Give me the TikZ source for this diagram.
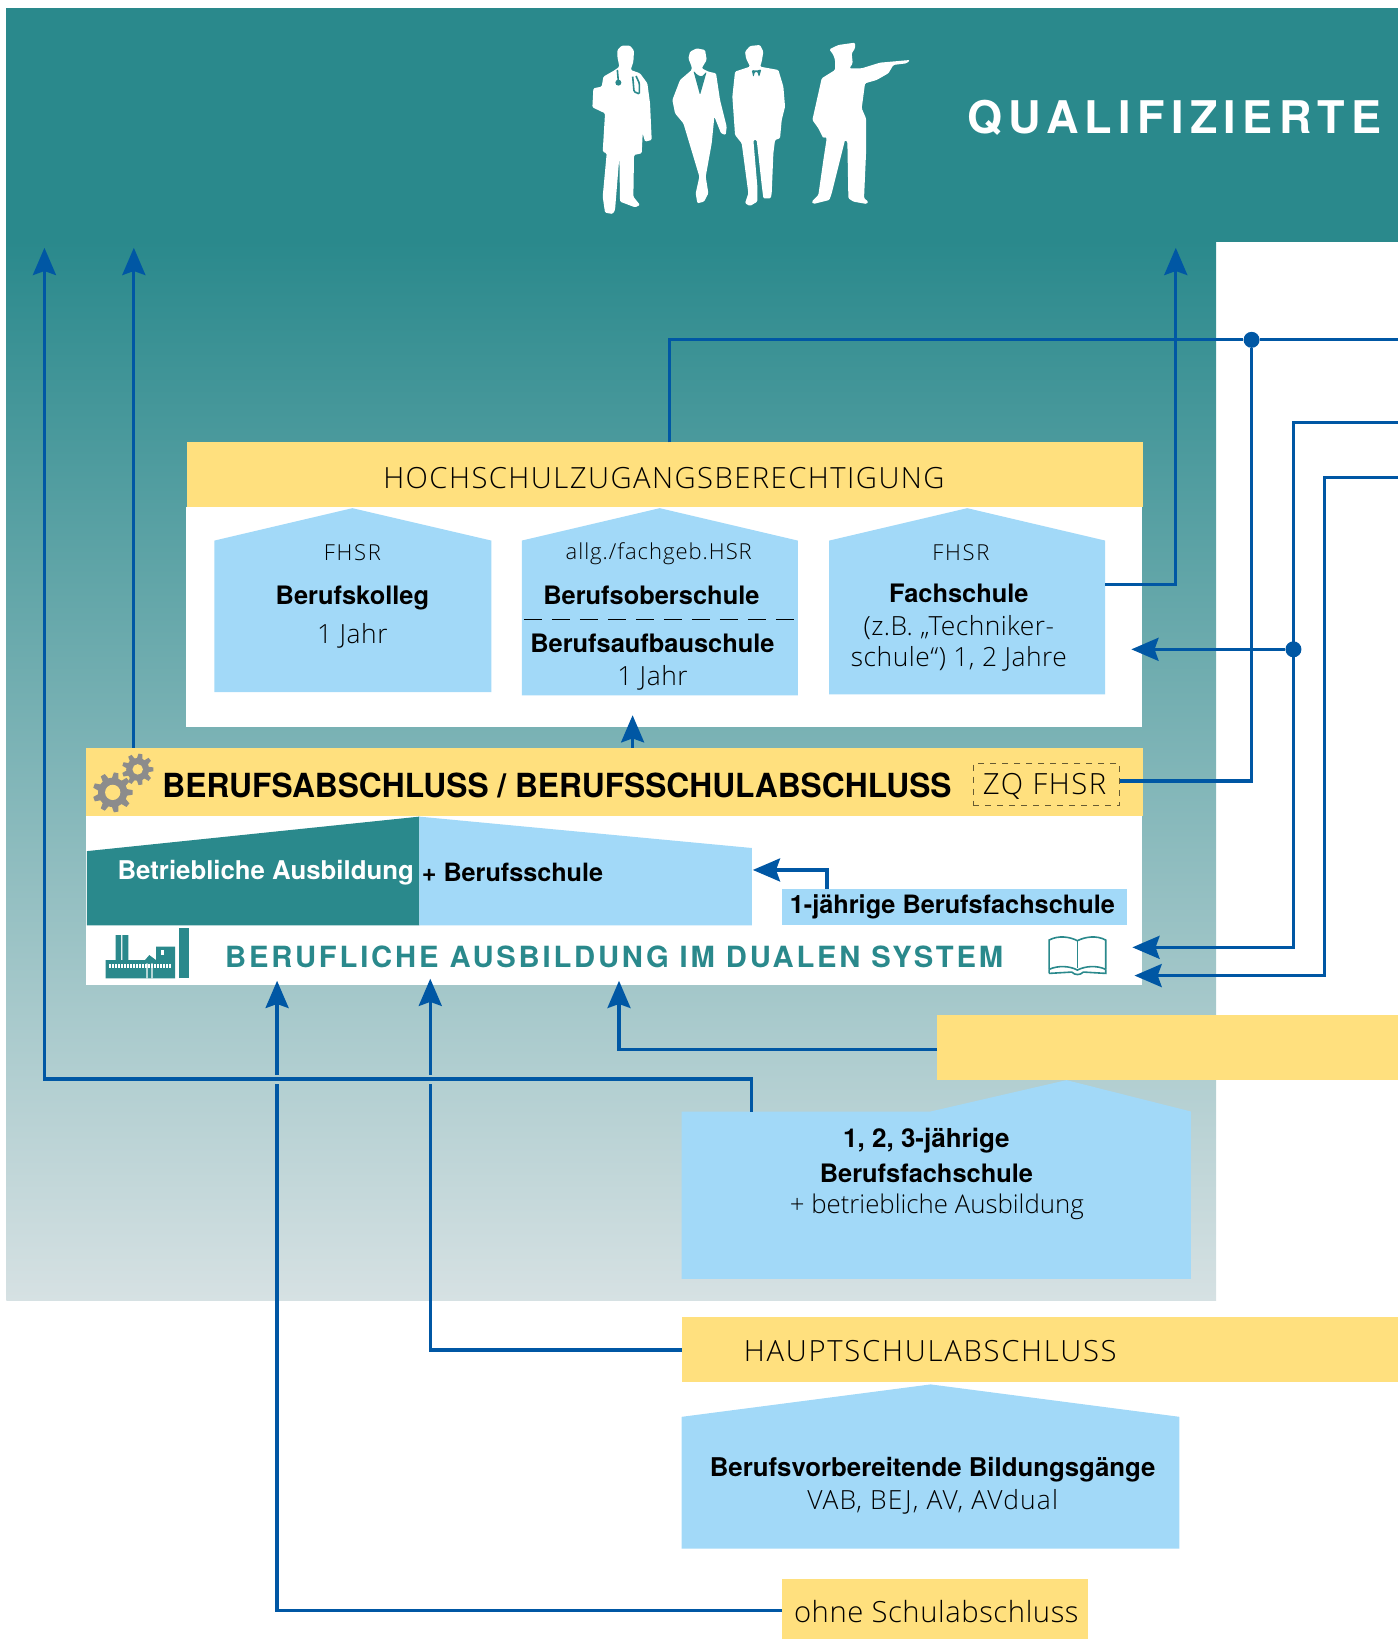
\documentclass[tikz,border=0pt]{standalone}
\usepackage{fontspec}
\setmainfont{TeX Gyre Heros}
\newfontfamily\lightf{Open Sans Light}
\usetikzlibrary{arrows.meta}
\definecolor{teal1}{HTML}{2A898C}
\definecolor{tealmid}{HTML}{86ADB1}
\definecolor{tealend}{HTML}{D6E1E3}
\definecolor{yel}{HTML}{FFE07E}
\definecolor{sky}{HTML}{A2D9F8}
\definecolor{conn}{HTML}{0057A4}
\definecolor{gearc}{HTML}{8C8C8C}
\def\pu{0.52281pt}
\def\pz{0.16667pt}
\newcommand{\rbox}[6]{\node[#1, minimum width=(#4-#2)*\pu, minimum height=(#5-#3)*\pu, inner sep=0pt, outer sep=0pt, anchor=north west] (#6) at (#2,#3) {};}
\newcommand{\house}[6]{% x1,x2,apexx,apexy,eave,bottom
  \fill[sky] (#1,#5) -- (#3,#4) -- (#2,#5) -- (#2,#6) -- (#1,#6) -- cycle;}
\newcommand{\gearicon}[6]{% cx cy rout rin rhole width
  \begin{scope}[shift={(#1,#2)}]
    \fill[gearc] (0,0) circle[radius=#4];
    \foreach \a in {0,40,...,320}{
      \fill[gearc,rotate=\a+10] (-#6,#4-2) -- (-#6*0.65,#3) -- (#6*0.65,#3) -- (#6,#4-2) -- cycle;}
    \fill[yel] (0,0) circle[radius=#5];
  \end{scope}}
\tikzset{
  x=\pu, y=-\pu,
  yband/.style={fill=yel},
  skybox/.style={fill=sky},
  whitebox/.style={fill=white},
  conline/.style={draw=conn, line width=1.6pt},
  conarrow/.style={conline, -{Stealth[length=13.6pt,width=11.5pt,inset=2pt]}},
  dot/.style={circle, fill=conn, minimum size=8pt, inner sep=0pt},
  lt/.style 2 args={inner sep=0pt, text=black, font=\lightf\fontsize{#1}{15}\selectfont\addfontfeature{LetterSpace=#2}},
  bld/.style={inner sep=0pt, font=\fontsize{12.7}{15}\selectfont\bfseries, text=black},
}
\begin{document}
\begin{tikzpicture}
\useasboundingbox (0,0) rectangle (1337,1567.5);
% background
\shade[top color=teal1, middle color=tealmid, bottom color=tealend] (6,230) rectangle (1163,1244);
\rbox{fill=teal1}{6}{8}{1337}{231}{topband}
% silhouettes
\begin{scope}[shift={(535.6,19.1)}, x=\pz, y=-\pz, rounded corners=0.6pt]
 \fill[white] (172,90)--(185,77)--(210,77)--(222,92)--(220,125)--(212,150)--(240,160)--(262,190)--(270,250)--(275,360)--(255,365)--(248,340)--(245,400)--(222,405)--(220,530)--(240,555)--(225,562)--(180,545)--(178,410)--(165,570)--(158,582)--(135,578)--(128,530)--(140,400)--(128,395)--(135,280)--(97,262)--(100,205)--(125,200)--(130,170)--(165,150)--(178,140)--(172,110)--cycle;
 \draw[teal1,line width=0.8pt] (172,150)--(175,185) (218,170)--(222,215)--(238,222)--(238,190)--(228,168);
 \fill[teal1] (175,188) circle[radius=9];
 \fill[white] (390,95)--(410,85)--(435,90)--(440,120)--(425,145)--(445,155)--(468,160)--(480,240)--(500,320)--(497,345)--(483,340)--(463,290)--(455,370)--(437,470)--(445,520)--(432,545)--(412,550)--(407,520)--(418,470)--(370,310)--(345,280)--(337,240)--(360,180)--(395,150)--(395,140)--(385,115)--cycle;
 \fill[teal1] (400,152)--(420,225)--(440,155)--(425,170)--(412,165)--cycle;
 \fill[white] (555,95)--(570,78)--(600,75)--(610,95)--(605,125)--(600,140)--(655,150)--(670,200)--(675,260)--(665,300)--(660,355)--(645,360)--(640,400)--(635,520)--(632,535)--(610,535)--(605,495)--(590,360)--(580,360)--(592,500)--(592,545)--(570,558)--(555,550)--(565,520)--(545,370)--(525,345)--(517,230)--(525,155)--(570,140)--(558,115)--cycle;
 \fill[teal1] (575,150)--(580,172)--(585,155)--(592,155)--(597,172)--(604,148)--(590,152)--cycle;
 \fill[white] (808,88)--(835,75)--(885,68)--(885,85)--(875,100)--(878,130)--(868,145)--(905,145)--(960,128)--(1050,120)--(1040,130)--(1000,135)--(985,160)--(950,180)--(915,190)--(905,265)--(918,295)--(918,400)--(912,535)--(925,545)--(920,552)--(880,545)--(865,535)--(862,365)--(855,360)--(815,520)--(808,540)--(760,552)--(755,545)--(775,525)--(790,420)--(800,355)--(797,350)--(790,355)--(775,325)--(757,300)--(785,175)--(825,150)--(825,120)--(820,105)--cycle;
\end{scope}
\node[inner sep=0pt, anchor=west, text=white, font=\fontsize{22.5}{24}\selectfont\bfseries\addfontfeature{LetterSpace=14}] (qual) at (925,113) {QUALIFIZIERTE};
% upper white panel
\rbox{whitebox}{178}{485}{1092}{695}{panelA}
\rbox{yband}{179}{423}{1093}{485}{hzb}
\node[lt={14.6}{5}] (hzbt) at (635,457) {HOCHSCHULZUGANGSBERECHTIGUNG};
\house{205}{470}{337}{486}{517}{662}
\house{499}{763}{631}{486}{517}{665}
\house{793}{1057}{925}{486}{517}{664}
\rbox{inner sep=0pt}{793}{517}{1057}{664}{fach}
\draw[black, dash pattern=on 9pt off 5pt, line width=0.5pt] (501,592) -- (762,592);
\node[lt={11}{8}] (t1) at (337,529) {FHSR};
\node[bld] (t2) at (337,572) {Berufskolleg};
\node[lt={13.2}{2}] (t3) at (337,608) {1 Jahr};
\node[lt={11}{4.5}] (t4) at (630,530) {allg./fachgeb.HSR};
\node[bld] (t5) at (623,569) {Berufsoberschule};
\node[bld] (t6) at (624,615) {Berufsaufbauschule};
\node[lt={13.2}{2}] (t7) at (624,648) {1 Jahr};
\node[lt={11}{8}] (t8) at (919,529) {FHSR};
\node[bld] (t9) at (917,567) {Fachschule};
\node[lt={13.2}{1.6}] (t10) at (917,600) {(z.B. „Techniker-};
\node[lt={13.2}{2}] (t11) at (917,630) {schule“) 1, 2 Jahre};
% lower white panel
\rbox{whitebox}{82}{780}{1092}{942}{panelB}
\rbox{yband}{82}{715}{1093}{780}{berufs}
\node[inner sep=0pt, anchor=west, font=\fontsize{16.6}{18}\selectfont\bfseries\addfontfeature{FakeStretch=0.955}] (bt) at (155,751) {BERUFSABSCHLUSS / BERUFSSCHULABSCHLUSS};
\rbox{draw=black!60!yel, dashed, line width=0.5pt}{931}{730}{1071}{770}{zq}
\node[lt={14.6}{5.6}] (zqt) at (999,752) {ZQ FHSR};
\gearicon{107.8}{757.8}{19}{14}{7.3}{3.4}
\gearicon{131.7}{735.8}{15}{11}{5}{2.8}
\fill[teal1] (83,814) -- (401,781) -- (401,885) -- (83,885) -- cycle;
\fill[sky] (401,781) -- (719,811) -- (719,885) -- (401,885) -- cycle;
\node[bld, anchor=west, text=white, font=\fontsize{12.9}{15}\selectfont\bfseries] (ba) at (112,835) {Betriebliche Ausbildung};
\node[bld, anchor=west, font=\fontsize{12.6}{15}\selectfont\bfseries] (bs) at (403,834) {+ Berufsschule};
\rbox{skybox}{748}{850}{1078}{885}{bfs1}
\node[bld, anchor=west, font=\fontsize{12.65}{15}\selectfont\bfseries] (bfs1t) at (755,867) {1-jährige Berufsfachschule};
\node[inner sep=0pt, anchor=west, text=teal1, font=\fontsize{14.6}{17}\selectfont\bfseries\addfontfeature{LetterSpace=9.6}] (dual) at (215,915) {BERUFLICHE AUSBILDUNG IM DUALEN SYSTEM};
% factory
\begin{scope}[shift={(66.95,698.2)}, x=\pz, y=-\pz]
 \fill[teal1] (137,615) rectangle (153,692) (157,615) rectangle (175,692);
 \fill[teal1] (107,690) -- (225,690) -- (238,675) -- (258,690) -- (258,650) -- (315,650) -- (315,745) -- (107,745) -- cycle;
 \fill[teal1] (326,595) rectangle (358,745);
 \fill[white] (273,660) rectangle (282,675);
 \foreach \i in {0,...,20}{\fill[white] (118+\i*9,703) rectangle (124+\i*9,715);}
 \fill[white] (229,700) rectangle (233,745) (244,700) rectangle (248,745);
\end{scope}
% book
\begin{scope}[shift={(908.6,698.2)}, x=\pz, y=-\pz, line width=0.8pt]
 \draw[teal1] (297,718) -- (297,630) .. controls (325,615) and (360,620) .. (382,632) .. controls (405,620) and (440,615) .. (467,630) -- (467,718);
 \draw[teal1] (382,632) -- (382,715);
 \draw[teal1] (297,718) .. controls (325,705) and (360,708) .. (382,720) .. controls (405,708) and (440,705) .. (467,718);
 \draw[teal1] (297,730) -- (365,726) .. controls (375,736) and (390,736) .. (400,726) -- (467,730) -- (467,718) (297,730) -- (297,718);
\end{scope}
% lower stuff
\rbox{yband}{896}{971}{1337}{1033}{yempty}
\fill[sky] (652,1063) -- (890,1063) -- (1020,1033) -- (1139,1063) -- (1139,1223) -- (652,1223) -- cycle;
\rbox{inner sep=0pt}{652}{1063}{1139}{1223}{bfsh}
\node[bld, font=\fontsize{13}{15}\selectfont\bfseries] (b1) at (886,1091) {1, 2, 3-jährige};
\node[bld] (b2) at (886,1122) {Berufsfachschule};
\node[lt={12.9}{0}] (b3) at (896,1154) {+ betriebliche Ausbildung};
\rbox{yband}{652}{1260}{1337}{1322}{haupt}
\node[lt={14.6}{6}, anchor=west] (hauptt) at (711,1292) {HAUPTSCHULABSCHLUSS};
\house{652}{1128}{890}{1324}{1355}{1481}
\node[bld, font=\fontsize{12.9}{15}\selectfont\bfseries] (v1) at (892,1406) {Berufsvorbereitende Bildungsgänge};
\node[lt={13.2}{4.5}] (v2) at (892,1436) {VAB, BEJ, AV, AVdual};
\rbox{yband}{748}{1510}{1041}{1568}{ohne}
\node[lt={14.6}{2}, anchor=west] (ohnet) at (759,1541) {ohne Schulabschluss};
% coordinates
\coordinate (tipL) at (42.5,237);
\coordinate (tipM) at (128,237);
\coordinate (tipR) at (1124.5,237);
\coordinate (edgeA) at (1337,325);
\coordinate (edgeB) at (1337,404);
\coordinate (edgeC) at (1337,457);
\node[dot] (d1) at (1197,325) {};
\node[dot] (d2) at (1237,621) {};
\coordinate (tipF) at (1082,621);
\coordinate (tipB) at (1083,906);
\coordinate (tipC) at (1085,933);
% connectors
\draw[conarrow] (bfsh.north west -| 719,0) -- (719,1032) -- (42.5,1032) -- (tipL);
\draw[conarrow] (berufs.north west -| 128,0) -- (tipM);
\draw[conarrow] (fach.east |- 0,559) -- (1124.5,559) -- (tipR);
\draw[conline] (hzb.north -| 640,0) -- (640,325) -- (d1) -- (edgeA);
\draw[conline] (zq.east |- 0,747) -- (1197,747) -- (d1);
\draw[conarrow] (edgeB) -- (1237,404) -- (1237,906) -- (tipB);
\draw[conarrow] (d2) -- (tipF);
\draw[conarrow] (edgeC) -- (1267,457) -- (1267,933) -- (tipC);
\draw[conarrow] (berufs.north -| 605,0) -- (605,684);
\draw[conarrow] (bfs1.north -| 791,0) -- (791,832) -- (720,832);
\draw[conarrow] (yempty.west |- 0,1004) -- (592,1004) -- (592,938);
\draw[conarrow] (265,1028) -- (265,938);
\draw[conarrow] (411.5,1028) -- (411.5,936);
\draw[conline] (haupt.west) -- (411.5,1291) -- (411.5,1037);
\draw[conline] (ohne.west |- 0,1540) -- (265,1540) -- (265,1037);
\end{tikzpicture}
\end{document}
